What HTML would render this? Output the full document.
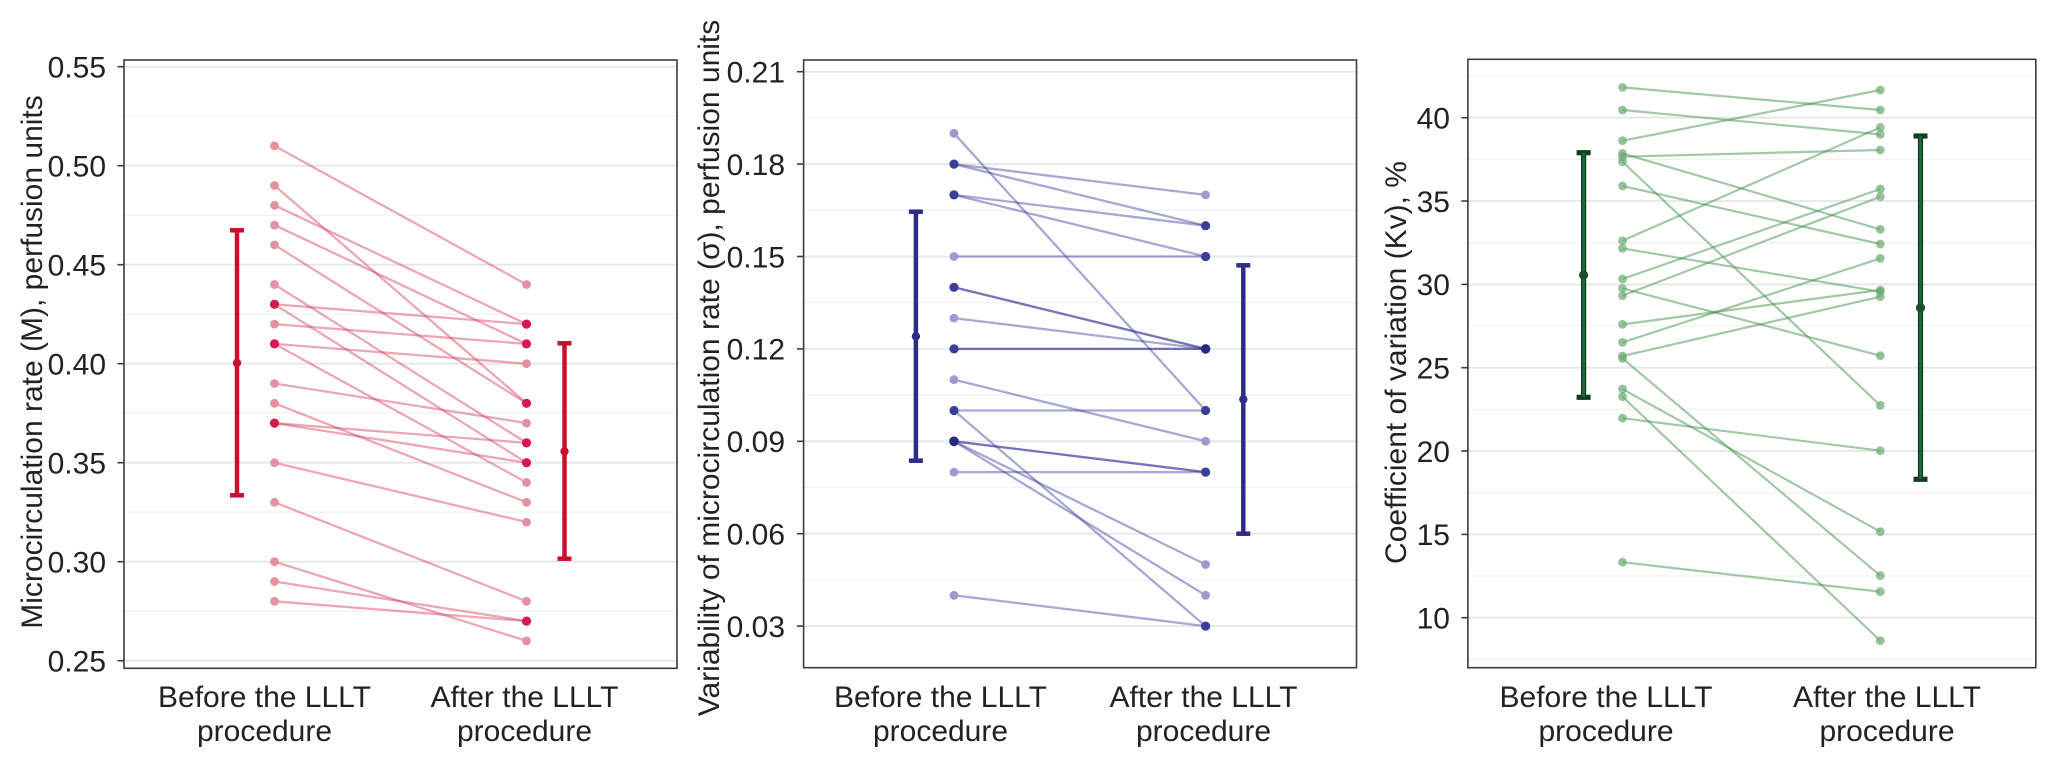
<!DOCTYPE html>
<html><head><meta charset="utf-8"><style>
html,body{margin:0;padding:0;background:#fff}
svg{display:block}
text{font-family:"Liberation Sans",Arial,sans-serif;font-size:30px;fill:#222}
</style></head><body>
<svg width="2055" height="761" viewBox="0 0 2055 761" xmlns="http://www.w3.org/2000/svg">
<rect width="2055" height="761" fill="#fff"/>

<!-- ================= PANEL 1 ================= -->
<g>
<g stroke="#f2f2f2" stroke-width="1.3">
<line x1="124" x2="677" y1="116.2" y2="116.2"/><line x1="124" x2="677" y1="215.2" y2="215.2"/>
<line x1="124" x2="677" y1="314.2" y2="314.2"/><line x1="124" x2="677" y1="413.2" y2="413.2"/>
<line x1="124" x2="677" y1="512.2" y2="512.2"/><line x1="124" x2="677" y1="611.2" y2="611.2"/>
</g>
<g stroke="#e6e6e6" stroke-width="1.8">
<line x1="124" x2="677" y1="66.7" y2="66.7"/><line x1="124" x2="677" y1="165.7" y2="165.7"/>
<line x1="124" x2="677" y1="264.7" y2="264.7"/><line x1="124" x2="677" y1="363.7" y2="363.7"/>
<line x1="124" x2="677" y1="462.7" y2="462.7"/><line x1="124" x2="677" y1="561.7" y2="561.7"/>
<line x1="124" x2="677" y1="660.7" y2="660.7"/>
</g>
<g stroke="rgb(212,60,92)" stroke-opacity="0.45" stroke-width="2.3">
<line x1="274.5" x2="526.5" y1="145.9" y2="284.5"/>
<line x1="274.5" x2="526.5" y1="185.5" y2="403.3"/>
<line x1="274.5" x2="526.5" y1="205.3" y2="324.1"/>
<line x1="274.5" x2="526.5" y1="225.1" y2="343.9"/>
<line x1="274.5" x2="526.5" y1="244.9" y2="403.3"/>
<line x1="274.5" x2="526.5" y1="284.5" y2="442.9"/>
<line x1="274.5" x2="526.5" y1="304.3" y2="324.1"/>
<line x1="274.5" x2="526.5" y1="304.3" y2="462.7"/>
<line x1="274.5" x2="526.5" y1="324.1" y2="343.9"/>
<line x1="274.5" x2="526.5" y1="343.9" y2="363.7"/>
<line x1="274.5" x2="526.5" y1="343.9" y2="482.5"/>
<line x1="274.5" x2="526.5" y1="383.5" y2="423.1"/>
<line x1="274.5" x2="526.5" y1="403.3" y2="502.3"/>
<line x1="274.5" x2="526.5" y1="423.1" y2="442.9"/>
<line x1="274.5" x2="526.5" y1="423.1" y2="462.7"/>
<line x1="274.5" x2="526.5" y1="462.7" y2="522.1"/>
<line x1="274.5" x2="526.5" y1="502.3" y2="601.3"/>
<line x1="274.5" x2="526.5" y1="561.7" y2="640.9"/>
<line x1="274.5" x2="526.5" y1="581.5" y2="621.1"/>
<line x1="274.5" x2="526.5" y1="601.3" y2="621.1"/>
</g>
<g fill="#e3909f">
<circle cx="274.5" cy="145.9" r="4.4"/><circle cx="274.5" cy="185.5" r="4.4"/>
<circle cx="274.5" cy="205.3" r="4.4"/><circle cx="274.5" cy="225.1" r="4.4"/>
<circle cx="274.5" cy="244.9" r="4.4"/><circle cx="274.5" cy="284.5" r="4.4"/>
<circle cx="274.5" cy="324.1" r="4.4"/><circle cx="274.5" cy="383.5" r="4.4"/>
<circle cx="274.5" cy="403.3" r="4.4"/><circle cx="274.5" cy="462.7" r="4.4"/>
<circle cx="274.5" cy="502.3" r="4.4"/><circle cx="274.5" cy="561.7" r="4.4"/>
<circle cx="274.5" cy="581.5" r="4.4"/><circle cx="274.5" cy="601.3" r="4.4"/>
<circle cx="526.5" cy="284.5" r="4.4"/><circle cx="526.5" cy="363.7" r="4.4"/>
<circle cx="526.5" cy="423.1" r="4.4"/><circle cx="526.5" cy="482.5" r="4.4"/>
<circle cx="526.5" cy="502.3" r="4.4"/><circle cx="526.5" cy="522.1" r="4.4"/>
<circle cx="526.5" cy="601.3" r="4.4"/><circle cx="526.5" cy="640.9" r="4.4"/>
</g>
<g fill="#d6184f">
<circle cx="274.5" cy="304.3" r="4.6"/><circle cx="274.5" cy="343.9" r="4.6"/>
<circle cx="274.5" cy="423.1" r="4.6"/>
<circle cx="526.5" cy="324.1" r="4.6"/><circle cx="526.5" cy="343.9" r="4.6"/>
<circle cx="526.5" cy="403.3" r="4.6"/><circle cx="526.5" cy="442.9" r="4.6"/>
<circle cx="526.5" cy="462.7" r="4.6"/><circle cx="526.5" cy="621.1" r="4.6"/>
</g>
<g stroke="#c8102e" stroke-width="4.5" fill="#c8102e">
<line x1="237" x2="237" y1="230.3" y2="495.3"/>
<line x1="230" x2="244" y1="230.3" y2="230.3"/>
<line x1="230" x2="244" y1="495.3" y2="495.3"/>
<circle cx="237" cy="363" r="4.2" stroke="none"/>
<line x1="564.5" x2="564.5" y1="343.3" y2="558.7"/>
<line x1="557.5" x2="571.5" y1="343.3" y2="343.3"/>
<line x1="557.5" x2="571.5" y1="558.7" y2="558.7"/>
<circle cx="564.5" cy="451.3" r="4.2" stroke="none"/>
</g>
<rect x="124" y="60" width="553" height="608.3" fill="none" stroke="#3c3c3c" stroke-width="1.6"/>
<g stroke="#3c3c3c" stroke-width="1.6">
<line x1="117.5" x2="124" y1="66.7" y2="66.7"/><line x1="117.5" x2="124" y1="165.7" y2="165.7"/>
<line x1="117.5" x2="124" y1="264.7" y2="264.7"/><line x1="117.5" x2="124" y1="363.7" y2="363.7"/>
<line x1="117.5" x2="124" y1="462.7" y2="462.7"/><line x1="117.5" x2="124" y1="561.7" y2="561.7"/>
<line x1="117.5" x2="124" y1="660.7" y2="660.7"/>
</g>
<g text-anchor="end">
<text x="106" y="77.5">0.55</text><text x="106" y="176.5">0.50</text>
<text x="106" y="275.5">0.45</text><text x="106" y="374.5">0.40</text>
<text x="106" y="473.5">0.35</text><text x="106" y="572.5">0.30</text>
<text x="106" y="671.5">0.25</text>
</g>
<text transform="translate(42,362) rotate(-90)" text-anchor="middle">Microcirculation rate (M), perfusion units</text>
<g text-anchor="middle">
<text x="264.5" y="707">Before the LLLT</text><text x="264.5" y="741">procedure</text>
<text x="524.5" y="707">After the LLLT</text><text x="524.5" y="741">procedure</text>
</g>
</g>

<!-- ================= PANEL 2 ================= -->
<g>
<g stroke="#f2f2f2" stroke-width="1.3">
<line x1="803.6" x2="1356.5" y1="117.9" y2="117.9"/><line x1="803.6" x2="1356.5" y1="210.3" y2="210.3"/>
<line x1="803.6" x2="1356.5" y1="302.7" y2="302.7"/><line x1="803.6" x2="1356.5" y1="395.1" y2="395.1"/>
<line x1="803.6" x2="1356.5" y1="487.5" y2="487.5"/><line x1="803.6" x2="1356.5" y1="579.9" y2="579.9"/>
</g>
<g stroke="#e6e6e6" stroke-width="1.8">
<line x1="803.6" x2="1356.5" y1="71.7" y2="71.7"/><line x1="803.6" x2="1356.5" y1="164.1" y2="164.1"/>
<line x1="803.6" x2="1356.5" y1="256.5" y2="256.5"/><line x1="803.6" x2="1356.5" y1="348.9" y2="348.9"/>
<line x1="803.6" x2="1356.5" y1="441.3" y2="441.3"/><line x1="803.6" x2="1356.5" y1="533.7" y2="533.7"/>
<line x1="803.6" x2="1356.5" y1="626.1" y2="626.1"/>
</g>
<g stroke="rgb(48,48,150)" stroke-opacity="0.42" stroke-width="2.3">
<line x1="954" x2="1205.6" y1="133.3" y2="410.5"/>
<line x1="954" x2="1205.6" y1="164.1" y2="194.9"/>
<line x1="954" x2="1205.6" y1="164.1" y2="225.7"/>
<line x1="954" x2="1205.6" y1="194.9" y2="225.7"/>
<line x1="954" x2="1205.6" y1="194.9" y2="256.5"/>
<line x1="954" x2="1205.6" y1="256.5" y2="256.5"/>
<line x1="954" x2="1205.6" y1="287.3" y2="348.9"/>
<line x1="954" x2="1205.6" y1="287.3" y2="348.9"/>
<line x1="954" x2="1205.6" y1="318.1" y2="348.9"/>
<line x1="954" x2="1205.6" y1="348.9" y2="348.9"/>
<line x1="954" x2="1205.6" y1="348.9" y2="348.9"/>
<line x1="954" x2="1205.6" y1="379.7" y2="441.3"/>
<line x1="954" x2="1205.6" y1="410.5" y2="410.5"/>
<line x1="954" x2="1205.6" y1="410.5" y2="626.1"/>
<line x1="954" x2="1205.6" y1="441.3" y2="472.1"/>
<line x1="954" x2="1205.6" y1="441.3" y2="472.1"/>
<line x1="954" x2="1205.6" y1="441.3" y2="564.5"/>
<line x1="954" x2="1205.6" y1="441.3" y2="595.3"/>
<line x1="954" x2="1205.6" y1="472.1" y2="472.1"/>
<line x1="954" x2="1205.6" y1="595.3" y2="626.1"/>
</g>
<g fill="#9b9bd2">
<circle cx="954" cy="133.3" r="4.4"/><circle cx="954" cy="256.5" r="4.4"/>
<circle cx="954" cy="318.1" r="4.4"/><circle cx="954" cy="379.7" r="4.4"/>
<circle cx="954" cy="472.1" r="4.4"/><circle cx="954" cy="595.3" r="4.4"/>
<circle cx="1205.6" cy="194.9" r="4.4"/><circle cx="1205.6" cy="441.3" r="4.4"/>
<circle cx="1205.6" cy="564.5" r="4.4"/><circle cx="1205.6" cy="595.3" r="4.4"/>
</g>
<g fill="#3a3e98">
<circle cx="954" cy="164.1" r="4.6"/><circle cx="954" cy="194.9" r="4.6"/>
<circle cx="954" cy="287.3" r="4.6"/><circle cx="954" cy="348.9" r="4.6"/>
<circle cx="954" cy="410.5" r="4.6"/>
<circle cx="1205.6" cy="225.7" r="4.6"/><circle cx="1205.6" cy="256.5" r="4.6"/>
<circle cx="1205.6" cy="410.5" r="4.6"/><circle cx="1205.6" cy="472.1" r="4.6"/>
<circle cx="1205.6" cy="626.1" r="4.6"/>
</g>
<g fill="#262a80">
<circle cx="954" cy="441.3" r="4.8"/><circle cx="1205.6" cy="348.9" r="4.8"/>
</g>
<g stroke="#2e2c84" stroke-width="4.5" fill="#2e2c84">
<line x1="915.9" x2="915.9" y1="211.7" y2="460.7"/>
<line x1="908.9" x2="922.9" y1="211.7" y2="211.7"/>
<line x1="908.9" x2="922.9" y1="460.7" y2="460.7"/>
<circle cx="915.9" cy="336.3" r="4.2" stroke="none"/>
<line x1="1243.3" x2="1243.3" y1="265.3" y2="533.7"/>
<line x1="1236.3" x2="1250.3" y1="265.3" y2="265.3"/>
<line x1="1236.3" x2="1250.3" y1="533.7" y2="533.7"/>
<circle cx="1243.3" cy="399.3" r="4.2" stroke="none"/>
</g>
<rect x="803.6" y="60" width="552.9" height="607.7" fill="none" stroke="#3c3c3c" stroke-width="1.6"/>
<g stroke="#3c3c3c" stroke-width="1.6">
<line x1="797" x2="803.6" y1="71.7" y2="71.7"/><line x1="797" x2="803.6" y1="164.1" y2="164.1"/>
<line x1="797" x2="803.6" y1="256.5" y2="256.5"/><line x1="797" x2="803.6" y1="348.9" y2="348.9"/>
<line x1="797" x2="803.6" y1="441.3" y2="441.3"/><line x1="797" x2="803.6" y1="533.7" y2="533.7"/>
<line x1="797" x2="803.6" y1="626.1" y2="626.1"/>
</g>
<g text-anchor="end">
<text x="785" y="82.5">0.21</text><text x="785" y="174.9">0.18</text>
<text x="785" y="267.3">0.15</text><text x="785" y="359.7">0.12</text>
<text x="785" y="452.1">0.09</text><text x="785" y="544.5">0.06</text>
<text x="785" y="636.9">0.03</text>
</g>
<text transform="translate(719,368) rotate(-90)" text-anchor="middle">Variability of microcirculation rate (σ), perfusion units</text>
<g text-anchor="middle">
<text x="940.5" y="707">Before the LLLT</text><text x="940.5" y="741">procedure</text>
<text x="1203.5" y="707">After the LLLT</text><text x="1203.5" y="741">procedure</text>
</g>
</g>

<!-- ================= PANEL 3 ================= -->
<g>
<g stroke="#f2f2f2" stroke-width="1.3">
<line x1="1467.9" x2="2035.8" y1="76.0" y2="76.0"/><line x1="1467.9" x2="2035.8" y1="159.4" y2="159.4"/>
<line x1="1467.9" x2="2035.8" y1="242.7" y2="242.7"/><line x1="1467.9" x2="2035.8" y1="326.0" y2="326.0"/>
<line x1="1467.9" x2="2035.8" y1="409.4" y2="409.4"/><line x1="1467.9" x2="2035.8" y1="492.7" y2="492.7"/>
<line x1="1467.9" x2="2035.8" y1="576.0" y2="576.0"/><line x1="1467.9" x2="2035.8" y1="659.4" y2="659.4"/>
</g>
<g stroke="#e6e6e6" stroke-width="1.8">
<line x1="1467.9" x2="2035.8" y1="117.7" y2="117.7"/><line x1="1467.9" x2="2035.8" y1="201.0" y2="201.0"/>
<line x1="1467.9" x2="2035.8" y1="284.4" y2="284.4"/><line x1="1467.9" x2="2035.8" y1="367.7" y2="367.7"/>
<line x1="1467.9" x2="2035.8" y1="451.0" y2="451.0"/><line x1="1467.9" x2="2035.8" y1="534.4" y2="534.4"/>
<line x1="1467.9" x2="2035.8" y1="617.7" y2="617.7"/>
</g>
<g stroke="rgb(60,140,72)" stroke-opacity="0.48" stroke-width="2.2">
<line x1="1622.5" x2="1880.3" y1="87.4" y2="110.0"/>
<line x1="1622.5" x2="1880.3" y1="110.0" y2="134.4"/>
<line x1="1622.5" x2="1880.3" y1="140.7" y2="90.0"/>
<line x1="1622.5" x2="1880.3" y1="153.4" y2="229.4"/>
<line x1="1622.5" x2="1880.3" y1="156.7" y2="150.0"/>
<line x1="1622.5" x2="1880.3" y1="161.7" y2="405.4"/>
<line x1="1622.5" x2="1880.3" y1="186.0" y2="244.0"/>
<line x1="1622.5" x2="1880.3" y1="240.7" y2="127.4"/>
<line x1="1622.5" x2="1880.3" y1="248.4" y2="291.7"/>
<line x1="1622.5" x2="1880.3" y1="279.0" y2="189.0"/>
<line x1="1622.5" x2="1880.3" y1="288.4" y2="355.7"/>
<line x1="1622.5" x2="1880.3" y1="295.7" y2="196.7"/>
<line x1="1622.5" x2="1880.3" y1="324.4" y2="290.0"/>
<line x1="1622.5" x2="1880.3" y1="342.4" y2="258.4"/>
<line x1="1622.5" x2="1880.3" y1="356.0" y2="296.7"/>
<line x1="1622.5" x2="1880.3" y1="358.4" y2="575.7"/>
<line x1="1622.5" x2="1880.3" y1="389.0" y2="531.7"/>
<line x1="1622.5" x2="1880.3" y1="396.7" y2="640.7"/>
<line x1="1622.5" x2="1880.3" y1="418.2" y2="450.7"/>
<line x1="1622.5" x2="1880.3" y1="562.2" y2="591.7"/>
</g>
<g fill="rgb(110,170,115)" fill-opacity="0.72">
<circle cx="1622.5" cy="87.4" r="4.4"/><circle cx="1622.5" cy="110.0" r="4.4"/>
<circle cx="1622.5" cy="140.7" r="4.4"/><circle cx="1622.5" cy="153.4" r="4.4"/>
<circle cx="1622.5" cy="156.7" r="4.4"/><circle cx="1622.5" cy="161.7" r="4.4"/>
<circle cx="1622.5" cy="186.0" r="4.4"/><circle cx="1622.5" cy="240.7" r="4.4"/>
<circle cx="1622.5" cy="248.4" r="4.4"/><circle cx="1622.5" cy="279.0" r="4.4"/>
<circle cx="1622.5" cy="288.4" r="4.4"/><circle cx="1622.5" cy="295.7" r="4.4"/>
<circle cx="1622.5" cy="324.4" r="4.4"/><circle cx="1622.5" cy="342.4" r="4.4"/>
<circle cx="1622.5" cy="356.0" r="4.4"/><circle cx="1622.5" cy="358.4" r="4.4"/>
<circle cx="1622.5" cy="389.0" r="4.4"/><circle cx="1622.5" cy="396.7" r="4.4"/>
<circle cx="1622.5" cy="418.2" r="4.4"/><circle cx="1622.5" cy="562.2" r="4.4"/>
<circle cx="1880.3" cy="90.0" r="4.4"/><circle cx="1880.3" cy="110.0" r="4.4"/>
<circle cx="1880.3" cy="127.4" r="4.4"/><circle cx="1880.3" cy="134.4" r="4.4"/>
<circle cx="1880.3" cy="150.0" r="4.4"/><circle cx="1880.3" cy="189.0" r="4.4"/>
<circle cx="1880.3" cy="196.7" r="4.4"/><circle cx="1880.3" cy="229.4" r="4.4"/>
<circle cx="1880.3" cy="244.0" r="4.4"/><circle cx="1880.3" cy="258.4" r="4.4"/>
<circle cx="1880.3" cy="290.0" r="4.4"/><circle cx="1880.3" cy="291.7" r="4.4"/>
<circle cx="1880.3" cy="296.7" r="4.4"/><circle cx="1880.3" cy="355.7" r="4.4"/>
<circle cx="1880.3" cy="405.4" r="4.4"/><circle cx="1880.3" cy="450.7" r="4.4"/>
<circle cx="1880.3" cy="531.7" r="4.4"/><circle cx="1880.3" cy="575.7" r="4.4"/>
<circle cx="1880.3" cy="591.7" r="4.4"/><circle cx="1880.3" cy="640.7" r="4.4"/>
</g>
<g stroke="#0f3d1d" stroke-width="5.2" fill="#0f3d1d">
<line x1="1583.6" x2="1583.6" y1="152.7" y2="397.3"/>
<line x1="1576.6" x2="1590.6" y1="152.7" y2="152.7"/>
<line x1="1576.6" x2="1590.6" y1="397.3" y2="397.3"/>
<line x1="1920.5" x2="1920.5" y1="136" y2="479.3"/>
<line x1="1913.5" x2="1927.5" y1="136" y2="136"/>
<line x1="1913.5" x2="1927.5" y1="479.3" y2="479.3"/>
</g>
<g stroke="#23683a" stroke-width="2.6">
<line x1="1583.6" x2="1583.6" y1="152.7" y2="397.3"/>
<line x1="1920.5" x2="1920.5" y1="136" y2="479.3"/>
</g>
<g fill="#1b4f2b">
<circle cx="1583.6" cy="275" r="4.6"/><circle cx="1920.5" cy="307.7" r="4.6"/>
</g>
<rect x="1467.9" y="59.3" width="567.9" height="608.4" fill="none" stroke="#3c3c3c" stroke-width="1.6"/>
<g stroke="#3c3c3c" stroke-width="1.6">
<line x1="1461.4" x2="1467.9" y1="117.7" y2="117.7"/><line x1="1461.4" x2="1467.9" y1="201.0" y2="201.0"/>
<line x1="1461.4" x2="1467.9" y1="284.4" y2="284.4"/><line x1="1461.4" x2="1467.9" y1="367.7" y2="367.7"/>
<line x1="1461.4" x2="1467.9" y1="451.0" y2="451.0"/><line x1="1461.4" x2="1467.9" y1="534.4" y2="534.4"/>
<line x1="1461.4" x2="1467.9" y1="617.7" y2="617.7"/>
</g>
<g text-anchor="end">
<text x="1450" y="128.5">40</text><text x="1450" y="211.8">35</text>
<text x="1450" y="295.2">30</text><text x="1450" y="378.5">25</text>
<text x="1450" y="461.8">20</text><text x="1450" y="545.2">15</text>
<text x="1450" y="628.5">10</text>
</g>
<text transform="translate(1406,362.5) rotate(-90)" text-anchor="middle">Coefficient of variation (Kv), %</text>
<g text-anchor="middle">
<text x="1606" y="707">Before the LLLT</text><text x="1606" y="741">procedure</text>
<text x="1887" y="707">After the LLLT</text><text x="1887" y="741">procedure</text>
</g>
</g>
</svg>
</body></html>
